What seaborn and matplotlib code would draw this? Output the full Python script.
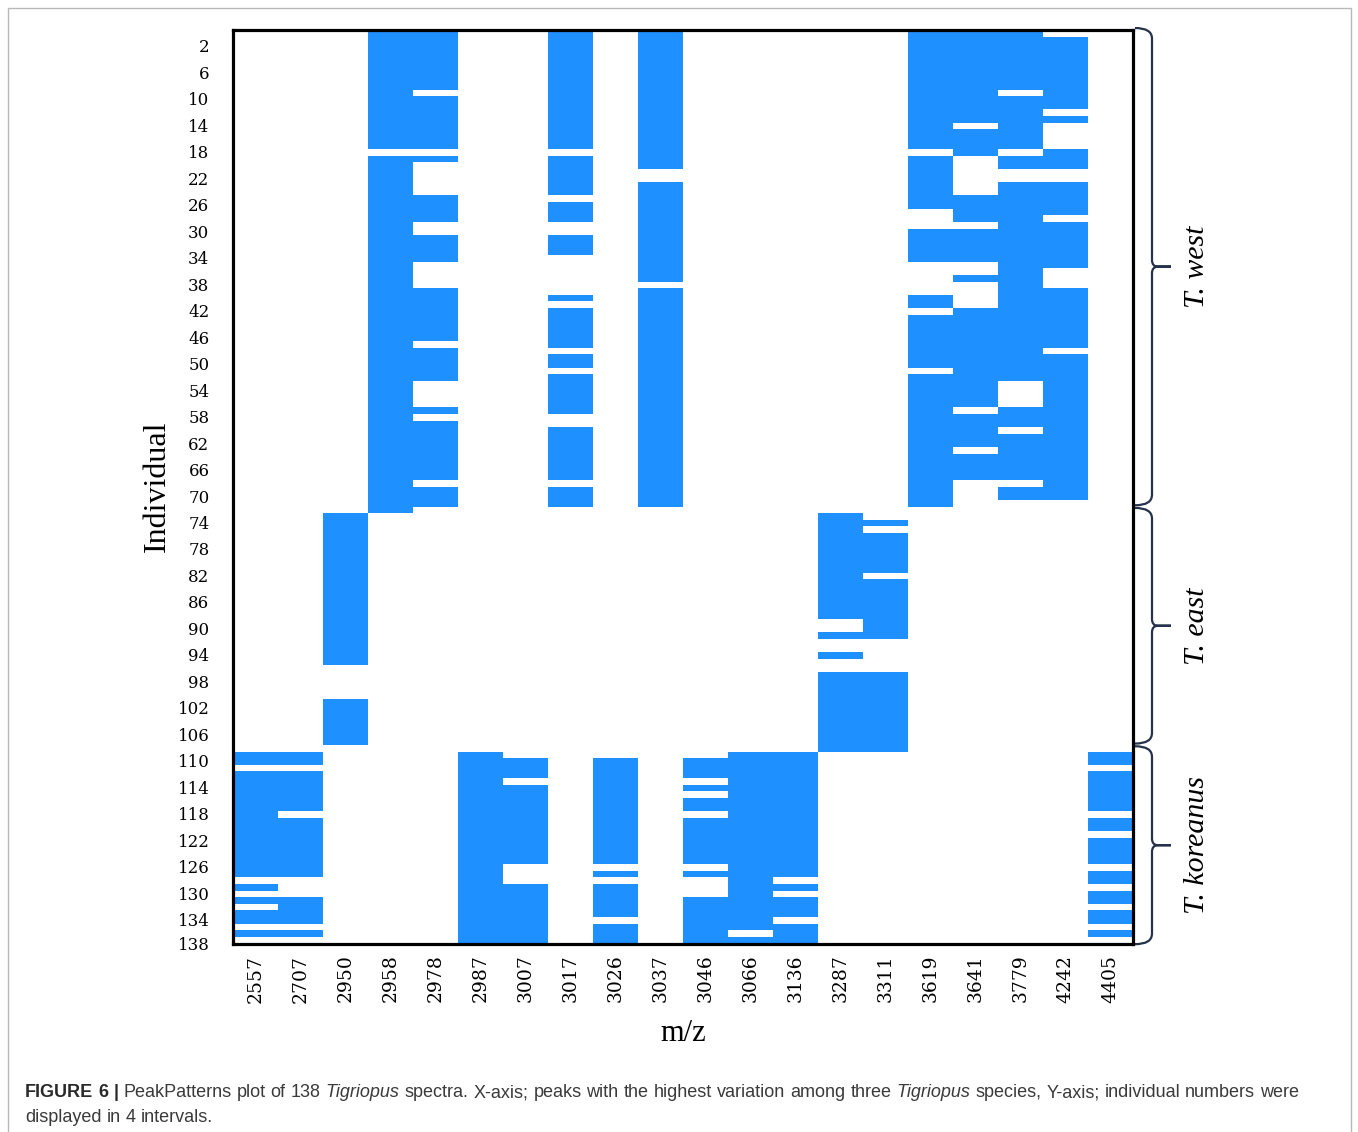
import numpy as np
import pandas as pd
import matplotlib
matplotlib.use("Agg")
import matplotlib.pyplot as plt
import matplotlib.transforms as mtransforms
from matplotlib.colors import ListedColormap
from matplotlib.path import Path
from matplotlib.patches import PathPatch, Rectangle
import seaborn as sns

# ---------------------------------------------------------------------------
# Peak presence per m/z value: inclusive runs of individual numbers (1..138)
# ---------------------------------------------------------------------------
n_individuals = 138
mz_labels = ["2557", "2707", "2950", "2958", "2978", "2987", "3007", "3017",
             "3026", "3037", "3046", "3066", "3136", "3287", "3311", "3619",
             "3641", "3779", "4242", "4405"]

p2557 = [(110, 111), (113, 128), (130, 130), (132, 132), (134, 135), (137, 137)]
p2707 = [(110, 111), (113, 118), (120, 128), (132, 135), (137, 137)]
p2950 = [(74, 96), (102, 108)]
p2958 = [(1, 18), (20, 73)]
p2978 = [(1, 9), (11, 18), (20, 20), (26, 29), (32, 35), (40, 47), (49, 53),
         (58, 58), (60, 68), (70, 72)]
p2987 = [(110, 138)]
p3007 = [(111, 113), (115, 126), (130, 138)]
p3017 = [(1, 18), (20, 25), (27, 29), (32, 34), (41, 41), (43, 48), (50, 51),
         (53, 58), (61, 68), (70, 72)]
p3026 = [(111, 126), (128, 128), (130, 134), (136, 138)]
p3037 = [(1, 21), (24, 38), (40, 72)]
p3046 = [(111, 113), (115, 115), (117, 118), (120, 126), (128, 128), (132, 138)]
p3066 = [(110, 136), (138, 138)]
p3136 = [(110, 128), (130, 130), (132, 134), (136, 138)]
p3287 = [(74, 89), (92, 92), (95, 95), (98, 109)]
p3311 = [(75, 75), (77, 82), (84, 92), (98, 109)]
p3619 = [(1, 18), (20, 27), (31, 35), (41, 42), (44, 51), (53, 72)]
p3641 = [(1, 14), (16, 19), (26, 29), (31, 35), (38, 38), (43, 57), (59, 63),
         (65, 68)]
p3779 = [(1, 9), (11, 18), (20, 21), (24, 53), (58, 60), (62, 68), (70, 71)]
p4242 = [(2, 12), (14, 14), (19, 21), (24, 28), (30, 36), (40, 48), (50, 71)]
p4405 = [(110, 111), (113, 118), (120, 121), (123, 126), (128, 129), (131, 132),
         (134, 135), (137, 137)]

peak_runs = [p2557, p2707, p2950, p2958, p2978, p2987, p3007, p3017, p3026,
             p3037, p3046, p3066, p3136, p3287, p3311, p3619, p3641, p3779,
             p4242, p4405]

group_names = ["T. west", "T. east", "T. koreanus"]
group_spans = [(1, 72), (73, 108), (109, 138)]

ytick_values = list(range(2, 139, 4))

caption_line1 = [("FIGURE 6 |", "bold"), ("PeakPatterns plot of 138", "normal"),
                 ("Tigriopus", "italic"),
                 ("spectra. X-axis; peaks with the highest variation among three", "normal"),
                 ("Tigriopus", "italic"),
                 ("species, Y-axis; individual numbers were", "normal")]
caption_line2 = [("displayed in 4 intervals.", "normal")]

# ---------------------------------------------------------------------------
# Presence matrix
# ---------------------------------------------------------------------------
individuals = np.arange(1, n_individuals + 1)
presence = pd.DataFrame(0, index=individuals, columns=mz_labels)
for label, runs in zip(mz_labels, peak_runs):
    for a, b in runs:
        presence.loc[a:b, label] = 1

# ---------------------------------------------------------------------------
# Figure
# ---------------------------------------------------------------------------
W, H = 1358, 1132
fig = plt.figure(figsize=(W / 100, H / 100), dpi=100)
fig.patch.set_facecolor("white")

ax = fig.add_axes([233 / W, 1 - 943.5 / H, 900 / W, 913.5 / H])
sns.heatmap(presence, ax=ax, cmap=ListedColormap(["white", "#1E90FF"]),
            vmin=0, vmax=1, cbar=False, linewidths=0,
            xticklabels=mz_labels, yticklabels=False)

for sp in ax.spines.values():
    sp.set_visible(True)
    sp.set_color("black")
    sp.set_linewidth(2.3)

serif = ["DejaVu Serif"]
ax.set_yticks([min(v + 0.4, n_individuals) for v in ytick_values])
ax.set_yticklabels([str(v) for v in ytick_values], family=serif, fontsize=12)
ax.set_xticks(np.arange(len(mz_labels)) + 0.5)
ax.set_xticklabels(mz_labels, rotation=90, family=serif, fontsize=13.5)
ax.tick_params(axis="y", length=0, pad=17)
ax.tick_params(axis="x", length=0, pad=8)

ax.set_xlabel("m/z", family=["Liberation Serif"], fontsize=22, labelpad=12)
ax.set_ylabel("Individual", family=["Liberation Serif"], fontsize=23, labelpad=4)

# Group braces on the right-hand side
bt = mtransforms.blended_transform_factory(ax.transAxes, ax.transData)
px = 1 / 900.0
x0, x1, x2 = 1.0 + 2 * px, 1.0 + 19 * px, 1.0 + 38 * px
for name, (g0, g1) in zip(group_names, group_spans):
    ya = g0 - 1 + (0.2 if g0 > 1 else -0.3)
    yb = g1 - 0.2 if g1 < n_individuals else g1 + 0.1
    ym = (ya + yb) / 2
    d = 1.6
    verts = [(x0, ya), (x1, ya), (x1, ya + d),
             (x1, ym - 1.0), (x1, ym), (x1 + 6 * px, ym),
             (x2, ym), (x1 + 6 * px, ym), (x1, ym), (x1, ym + 1.0),
             (x1, yb - d), (x1, yb), (x0, yb)]
    codes = [Path.MOVETO, Path.CURVE3, Path.CURVE3,
             Path.LINETO, Path.CURVE3, Path.CURVE3,
             Path.LINETO, Path.LINETO, Path.CURVE3, Path.CURVE3,
             Path.LINETO, Path.CURVE3, Path.CURVE3]
    ax.add_patch(PathPatch(Path(verts, codes), transform=bt, fill=False,
                           edgecolor="#25324A", linewidth=1.6, clip_on=False))
    ax.text((1197 - 233) * px, ym, name, transform=bt, rotation=90,
            ha="center", va="center", fontstyle="italic",
            family=["Liberation Serif"], fontsize=21.5)

# Figure frame
fig.add_artist(Rectangle((8, -10), 1343, H - 8 + 10,
                         transform=mtransforms.IdentityTransform(),
                         fill=False, edgecolor="#b8b8b8", linewidth=1.0))

# Caption, placed word by word to mix weights and slants
renderer = fig.canvas.get_renderer()
cap_size = 13.0
space = 0.278 * cap_size * 100 / 72


def place_line(runs, x, y):
    for text, style in runs:
        for word in text.split(" "):
            kw = dict(family=["Liberation Sans"], fontsize=cap_size,
                      color="#3a3a3a", transform=mtransforms.IdentityTransform())
            if style == "bold":
                kw["weight"] = "bold"
                kw["color"] = "#2a2a2a"
            if style == "italic":
                kw["style"] = "italic"
            t = fig.text(x, y, word, **kw)
            x += t.get_window_extent(renderer).width + space


place_line(caption_line1, 25, H - 1097)
place_line(caption_line2, 25, H - 1122)

fig.savefig("out.png", dpi=100, facecolor="white")
